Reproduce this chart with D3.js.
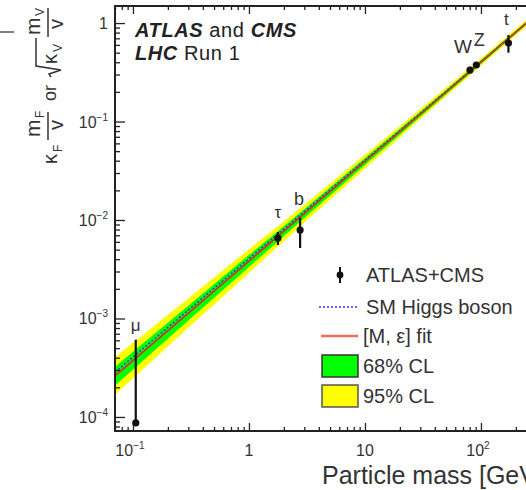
<!DOCTYPE html>
<html>
<head>
<meta charset="utf-8">
<script src="https://cdn.jsdelivr.net/npm/d3@7"></script>
<style>
  html, body { margin: 0; padding: 0; background: #fff; }
  svg { display: block; font-family: "Liberation Sans", Arial, sans-serif; }
</style>
</head>
<body>
<svg id="chart" width="526" height="490"></svg>
<script>
const particles = ['μ', 'τ', 'b', 'W', 'Z', 't'];
const particleMass = [0.1057, 1.777, 2.76, 80.4, 91.19, 172.5];
const measured = [0.87e-4, 6.56e-3, 7.9e-3, 0.333, 0.375, 0.626];
const measuredHi = [6.1e-4, 7.55e-3, 1.05e-2, 0.36, 0.40, 0.755];
const measuredLo = [0.87e-4, 5.57e-3, 5.2e-3, 0.31, 0.35, 0.50];

// [M, eps] fit and its bands
const bandMass = [0.07, 0.3, 1, 3, 10, 30, 100, 300, 1000];
const fitCentre = [2.61e-4, 1.135e-3, 3.83e-3, 1.16e-2, 3.93e-2, 0.119, 0.402, 1.22, 4.12];
const band68Lo = [2.09e-4, 9.55e-4, 3.33e-3, 1.047e-2, 3.62e-2, 0.112, 0.385, 1.18, 3.95];
const band68Hi = [3.24e-4, 1.35e-3, 4.40e-3, 1.288e-2, 4.26e-2, 0.126, 0.419, 1.26, 4.30];
const band95Lo = [1.68e-4, 8.04e-4, 2.90e-3, 9.44e-3, 3.34e-2, 0.106, 0.371, 1.14, 3.80];
const band95Hi = [4.04e-4, 1.60e-3, 5.05e-3, 1.43e-2, 4.61e-2, 0.134, 0.436, 1.31, 4.47];

// SM expectation m / v
const smMass = [0.07, 1000];
const smValue = [2.84e-4, 4.06];

const xMajor = [0.1, 1, 10, 100];
const xMajorLabels = [['10', '−1'], ['1', ''], ['10', ''], ['10', '2']];
const yMajor = [1e-4, 1e-3, 1e-2, 1e-1, 1];
const yMajorLabels = [['10', '−4'], ['10', '−3'], ['10', '−2'], ['10', '−1'], ['1', '']];
const legendLabels = ['ATLAS+CMS', 'SM Higgs boson', '[M, ε] fit', '68% CL', '95% CL'];

const svg = d3.select('#chart');
const plotLeft = 115, plotTop = 6, plotBottom = 431;

const x = d3.scaleLog().domain([0.07, 800])
    .range([plotLeft, plotLeft + 116 * Math.log10(800 / 0.07)]);
const y = d3.scaleLog().domain([7.2e-5, 1.49]).range([plotBottom, plotTop]);
const plotRight = x.range()[1];

svg.append('clipPath').attr('id', 'plotclip')
  .append('rect')
    .attr('x', plotLeft).attr('y', plotTop)
    .attr('width', plotRight - plotLeft).attr('height', plotBottom - plotTop);

const plot = svg.append('g').attr('clip-path', 'url(#plotclip)');

const bandIdx = d3.range(bandMass.length);
function band(lo, hi) {
    return d3.area()
        .x(i => x(bandMass[i]))
        .y0(i => y(lo[i]))
        .y1(i => y(hi[i]))(bandIdx);
}
plot.append('path').attr('d', band(band95Lo, band95Hi)).attr('fill', '#ffff00');
plot.append('path').attr('d', band(band68Lo, band68Hi)).attr('fill', '#00ff00');

plot.append('path')
    .attr('d', d3.line().x(i => x(smMass[i])).y(i => y(smValue[i]))(d3.range(smMass.length)))
    .attr('fill', 'none').attr('stroke', '#3333ff')
    .attr('stroke-width', 1.5).attr('stroke-dasharray', '2,2');

plot.append('path')
    .attr('d', d3.line().x(i => x(bandMass[i])).y(i => y(fitCentre[i]))(bandIdx))
    .attr('fill', 'none').attr('stroke', '#d8301e').attr('stroke-width', 1.7);

// data points
const pts = plot.selectAll('g.pt').data(d3.range(particles.length)).join('g').attr('class', 'pt');
pts.append('line')
    .attr('x1', i => x(particleMass[i])).attr('x2', i => x(particleMass[i]))
    .attr('y1', i => y(measuredLo[i])).attr('y2', i => y(measuredHi[i]))
    .attr('stroke', '#111').attr('stroke-width', 2.2);
pts.append('circle')
    .attr('cx', i => x(particleMass[i])).attr('cy', i => y(measured[i]))
    .attr('r', 3.6).attr('fill', '#111');

// particle names
const labelDx = [0, 0, -1, -7, 3, -2];
const labelDy = [-9, -14, -13, -14, -16, -10];
const labelSize = [17, 17, 18, 19, 18, 17];
svg.selectAll('text.pname').data(d3.range(particles.length)).join('text')
    .attr('class', 'pname')
    .attr('x', i => x(particleMass[i]) + labelDx[i])
    .attr('y', i => y(measuredHi[i]) + labelDy[i])
    .attr('text-anchor', 'middle')
    .attr('font-size', i => labelSize[i]).attr('fill', '#333')
    .text(i => particles[i]);

// axes, ticks inside the frame
const xMinor = x.ticks().filter(v => !xMajor.some(m => Math.abs(v / m - 1) < 1e-6));
const yMinor = y.ticks().filter(v => !yMajor.some(m => Math.abs(v / m - 1) < 1e-6));

function drawAxis(axis, tr) {
    const g = svg.append('g').attr('transform', tr).call(axis);
    g.select('.domain').remove();
    g.selectAll('line').attr('stroke', '#222').attr('stroke-width', 1.3);
    g.selectAll('text').remove();
}
drawAxis(d3.axisBottom(x).tickValues(xMajor).tickSize(-8), `translate(0,${plotBottom})`);
drawAxis(d3.axisBottom(x).tickValues(xMinor).tickSize(-4), `translate(0,${plotBottom})`);
drawAxis(d3.axisTop(x).tickValues(xMajor).tickSize(-8), `translate(0,${plotTop})`);
drawAxis(d3.axisTop(x).tickValues(xMinor).tickSize(-4), `translate(0,${plotTop})`);
drawAxis(d3.axisLeft(y).tickValues(yMajor).tickSize(-10), `translate(${plotLeft},0)`);
drawAxis(d3.axisLeft(y).tickValues(yMinor).tickSize(-5), `translate(${plotLeft},0)`);

svg.append('rect')
    .attr('x', plotLeft).attr('y', plotTop)
    .attr('width', plotRight - plotLeft).attr('height', plotBottom - plotTop)
    .attr('fill', 'none').attr('stroke', '#222').attr('stroke-width', 2);

// tick labels
xMajor.forEach((v, i) => {
    const t = svg.append('text')
        .attr('x', x(v) - (xMajorLabels[i][1] ? 3 : 0)).attr('y', 456)
        .attr('text-anchor', 'middle').attr('font-size', 16).attr('fill', '#333')
        .text(xMajorLabels[i][0]);
    if (xMajorLabels[i][1]) {
        t.append('tspan').attr('dy', -7).attr('font-size', 10).text(xMajorLabels[i][1]);
    }
});
yMajor.forEach((v, i) => {
    const t = svg.append('text')
        .attr('x', 108).attr('y', y(v) + 6)
        .attr('text-anchor', 'end').attr('font-size', 16).attr('fill', '#333')
        .text(yMajorLabels[i][0]);
    if (yMajorLabels[i][1]) {
        t.append('tspan').attr('dy', -7).attr('font-size', 10).text(yMajorLabels[i][1]);
    }
});

// the title runs past the right edge, as in the original crop
svg.append('text')
    .attr('x', 322).attr('y', 484)
    .attr('font-size', 25).attr('fill', '#333')
    .text('Particle mass [GeV]');

// y title, rotated: local x = -screen y, local y = screen x
const yt = svg.append('g').attr('transform', 'rotate(-90)')
    .attr('fill', '#333').attr('stroke', 'none');
function lt(lx, ly, s, size, anchor) {
    return yt.append('text').attr('x', lx).attr('y', ly)
        .attr('font-size', size).attr('text-anchor', anchor || 'start').text(s);
}
lt(-164, 57, 'κ', 20);
lt(-152, 62, 'F', 12);
lt(-137, 40, 'm', 21);
lt(-118, 44, 'F', 12);
yt.append('line').attr('x1', -140).attr('x2', -112).attr('y1', 48).attr('y2', 48)
    .attr('stroke', '#333').attr('stroke-width', 1.5);
lt(-125, 63, 'v', 20, 'middle');
lt(-101, 56, 'or', 18);
yt.append('path').attr('d', 'M-77,51 L-74,49 L-70,61 L-66,36 L-38,36')
    .attr('fill', 'none').attr('stroke', '#333').attr('stroke-width', 1.5);
lt(-64, 57, 'κ', 20);
lt(-52, 62, 'V', 12);
lt(-35, 40, 'm', 21);
lt(-16, 44, 'V', 12);
yt.append('line').attr('x1', -37).attr('x2', -8).attr('y1', 48).attr('y2', 48)
    .attr('stroke', '#333').attr('stroke-width', 1.5);
lt(-24, 63, 'v', 20, 'middle');

svg.append('line').attr('x1', 0).attr('x2', 14).attr('y1', 32).attr('y2', 32)
    .attr('stroke', '#555').attr('stroke-width', 1.5);

// experiment label
const t1 = svg.append('text').attr('x', 135).attr('y', 37)
    .attr('font-size', 20).attr('letter-spacing', 0.6).attr('fill', '#222');
t1.append('tspan').attr('font-weight', 'bold').attr('font-style', 'italic').text('ATLAS');
t1.append('tspan').text(' and ');
t1.append('tspan').attr('font-weight', 'bold').attr('font-style', 'italic').text('CMS');
const t2 = svg.append('text').attr('x', 135).attr('y', 60)
    .attr('font-size', 20).attr('letter-spacing', 0.6).attr('fill', '#222');
t2.append('tspan').attr('font-weight', 'bold').attr('font-style', 'italic').text('LHC');
t2.append('tspan').text('  Run 1');

// legend
const legY = [275, 307, 336, 366, 396];
const leg = svg.append('g');
leg.append('line').attr('x1', 340).attr('x2', 340).attr('y1', legY[0] - 8).attr('y2', legY[0] + 8)
    .attr('stroke', '#111').attr('stroke-width', 2);
leg.append('circle').attr('cx', 340).attr('cy', legY[0]).attr('r', 3.4).attr('fill', '#111');
leg.append('line').attr('x1', 319).attr('x2', 359).attr('y1', legY[1]).attr('y2', legY[1])
    .attr('stroke', '#3333ff').attr('stroke-width', 1.5).attr('stroke-dasharray', '2,2');
leg.append('line').attr('x1', 321).attr('x2', 358).attr('y1', legY[2]).attr('y2', legY[2])
    .attr('stroke', '#f26b62').attr('stroke-width', 2.5);
leg.append('rect').attr('x', 322).attr('y', legY[3] - 11).attr('width', 36).attr('height', 22)
    .attr('fill', '#00ff00').attr('stroke', '#333').attr('stroke-width', 1.5);
leg.append('rect').attr('x', 322).attr('y', legY[4] - 11).attr('width', 36).attr('height', 22)
    .attr('fill', '#ffff00').attr('stroke', '#555').attr('stroke-width', 1.5);
leg.selectAll('text').data(legendLabels).join('text')
    .attr('x', (d, i) => i < 2 ? 366 : 363)
    .attr('y', (d, i) => legY[i] + 7)
    .attr('font-size', 20).attr('fill', '#333')
    .text(d => d);
</script>
</body>
</html>
